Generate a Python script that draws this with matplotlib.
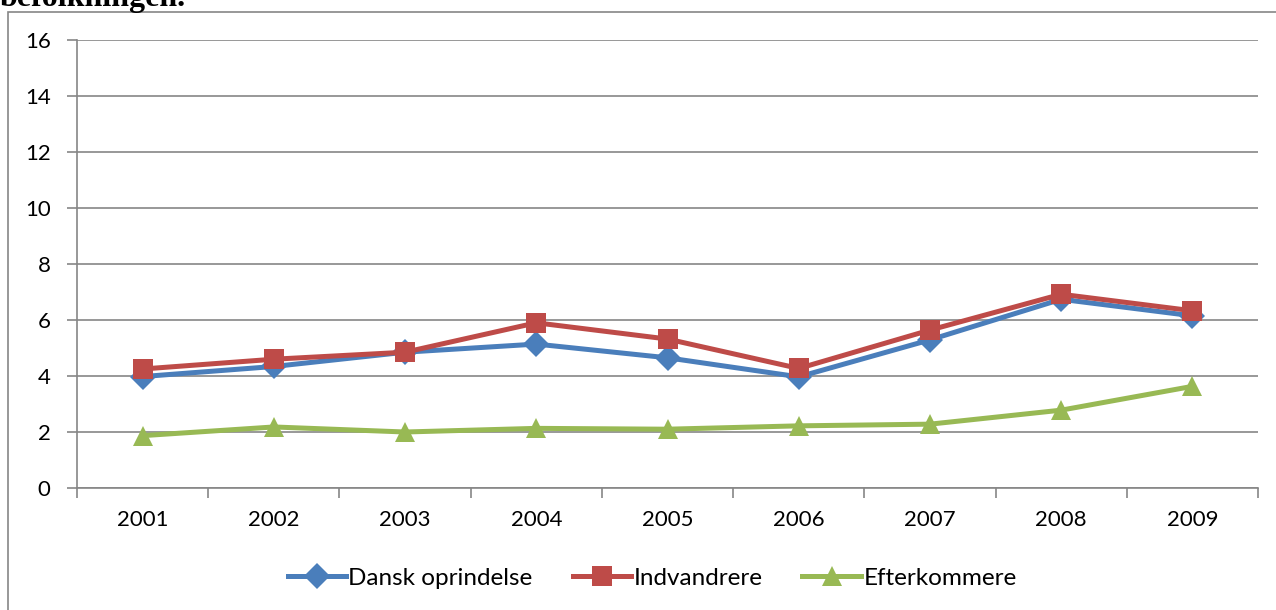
import matplotlib
matplotlib.use("Agg")
import matplotlib.pyplot as plt
from matplotlib.patches import Rectangle
from matplotlib.ticker import FixedLocator

years = ["2001", "2002", "2003", "2004", "2005", "2006", "2007", "2008", "2009"]
dansk = [3.98, 4.34, 4.85, 5.14, 4.65, 3.97, 5.29, 6.74, 6.15]
indvandrere = [4.25, 4.60, 4.85, 5.90, 5.32, 4.27, 5.64, 6.92, 6.33]
efterkommere = [1.87, 2.18, 2.00, 2.13, 2.10, 2.22, 2.28, 2.78, 3.63]
y_ticks = [0, 2, 4, 6, 8, 10, 12, 14, 16]

series = [
    ("Dansk oprindelse", dansk, "#4A7EBB", "D", 13),
    ("Indvandrere", indvandrere, "#BE4B48", "s", 15),
    ("Efterkommere", efterkommere, "#98B954", "^", 15),
]

W, H = 1276, 610
fig = plt.figure(figsize=(W / 100, H / 100), dpi=100)
font = ["Lato", "DejaVu Sans"]
grid_col = "#868686"
fs = 16

# outer chart frame
fig.patches.append(Rectangle((8 / W, -0.05), 1.1, 1 - 12 / H + 0.05,
                             transform=fig.transFigure, fill=False,
                             edgecolor=grid_col, linewidth=1.2))

# heading text, partly above the page edge
fig.text(0 / W, 1 - 6 / H, "befolkningen.", family="Liberation Serif",
         fontweight="bold", fontsize=23, va="baseline", ha="left")

ax = fig.add_axes([77 / W, 1 - 488 / H, (1258 - 77) / W, (488 - 40) / H])
x = list(range(len(years)))
for name, vals, col, mk, ms in series:
    ax.plot(x, vals, color=col, linewidth=3.6, marker=mk, markersize=ms,
            markeredgewidth=0, label=name, solid_joinstyle="round")

ax.set_xlim(-0.5, len(years) - 0.5)
ax.set_ylim(0, 16)
ax.set_yticks(y_ticks)
ax.set_yticklabels([str(t) for t in y_ticks], family=font, fontsize=fs)
ax.set_xticks(x)
ax.set_xticklabels(years, family=font, fontsize=fs)
ax.xaxis.set_minor_locator(FixedLocator([i - 0.5 for i in range(len(years) + 1)]))
ax.tick_params(axis="x", which="major", length=0, pad=16)
ax.tick_params(axis="x", which="minor", length=7, width=1.2, color=grid_col, direction="out")
ax.tick_params(axis="y", length=7, width=1.2, color=grid_col, pad=12)
ax.yaxis.grid(True, color=grid_col, linewidth=1.2)
ax.set_axisbelow(True)
for side in ("top", "right"):
    ax.spines[side].set_visible(False)
for side in ("left", "bottom"):
    ax.spines[side].set_color(grid_col)
    ax.spines[side].set_linewidth(1.2)

fig.legend(loc="center", bbox_to_anchor=(652 / W, 1 - 578 / H), ncol=3,
           frameon=False, prop={"family": font, "size": 17.5},
           handlelength=2.4, handletextpad=0.1, columnspacing=1.65,
           markerscale=1.0)

fig.savefig("out.png", dpi=100)
